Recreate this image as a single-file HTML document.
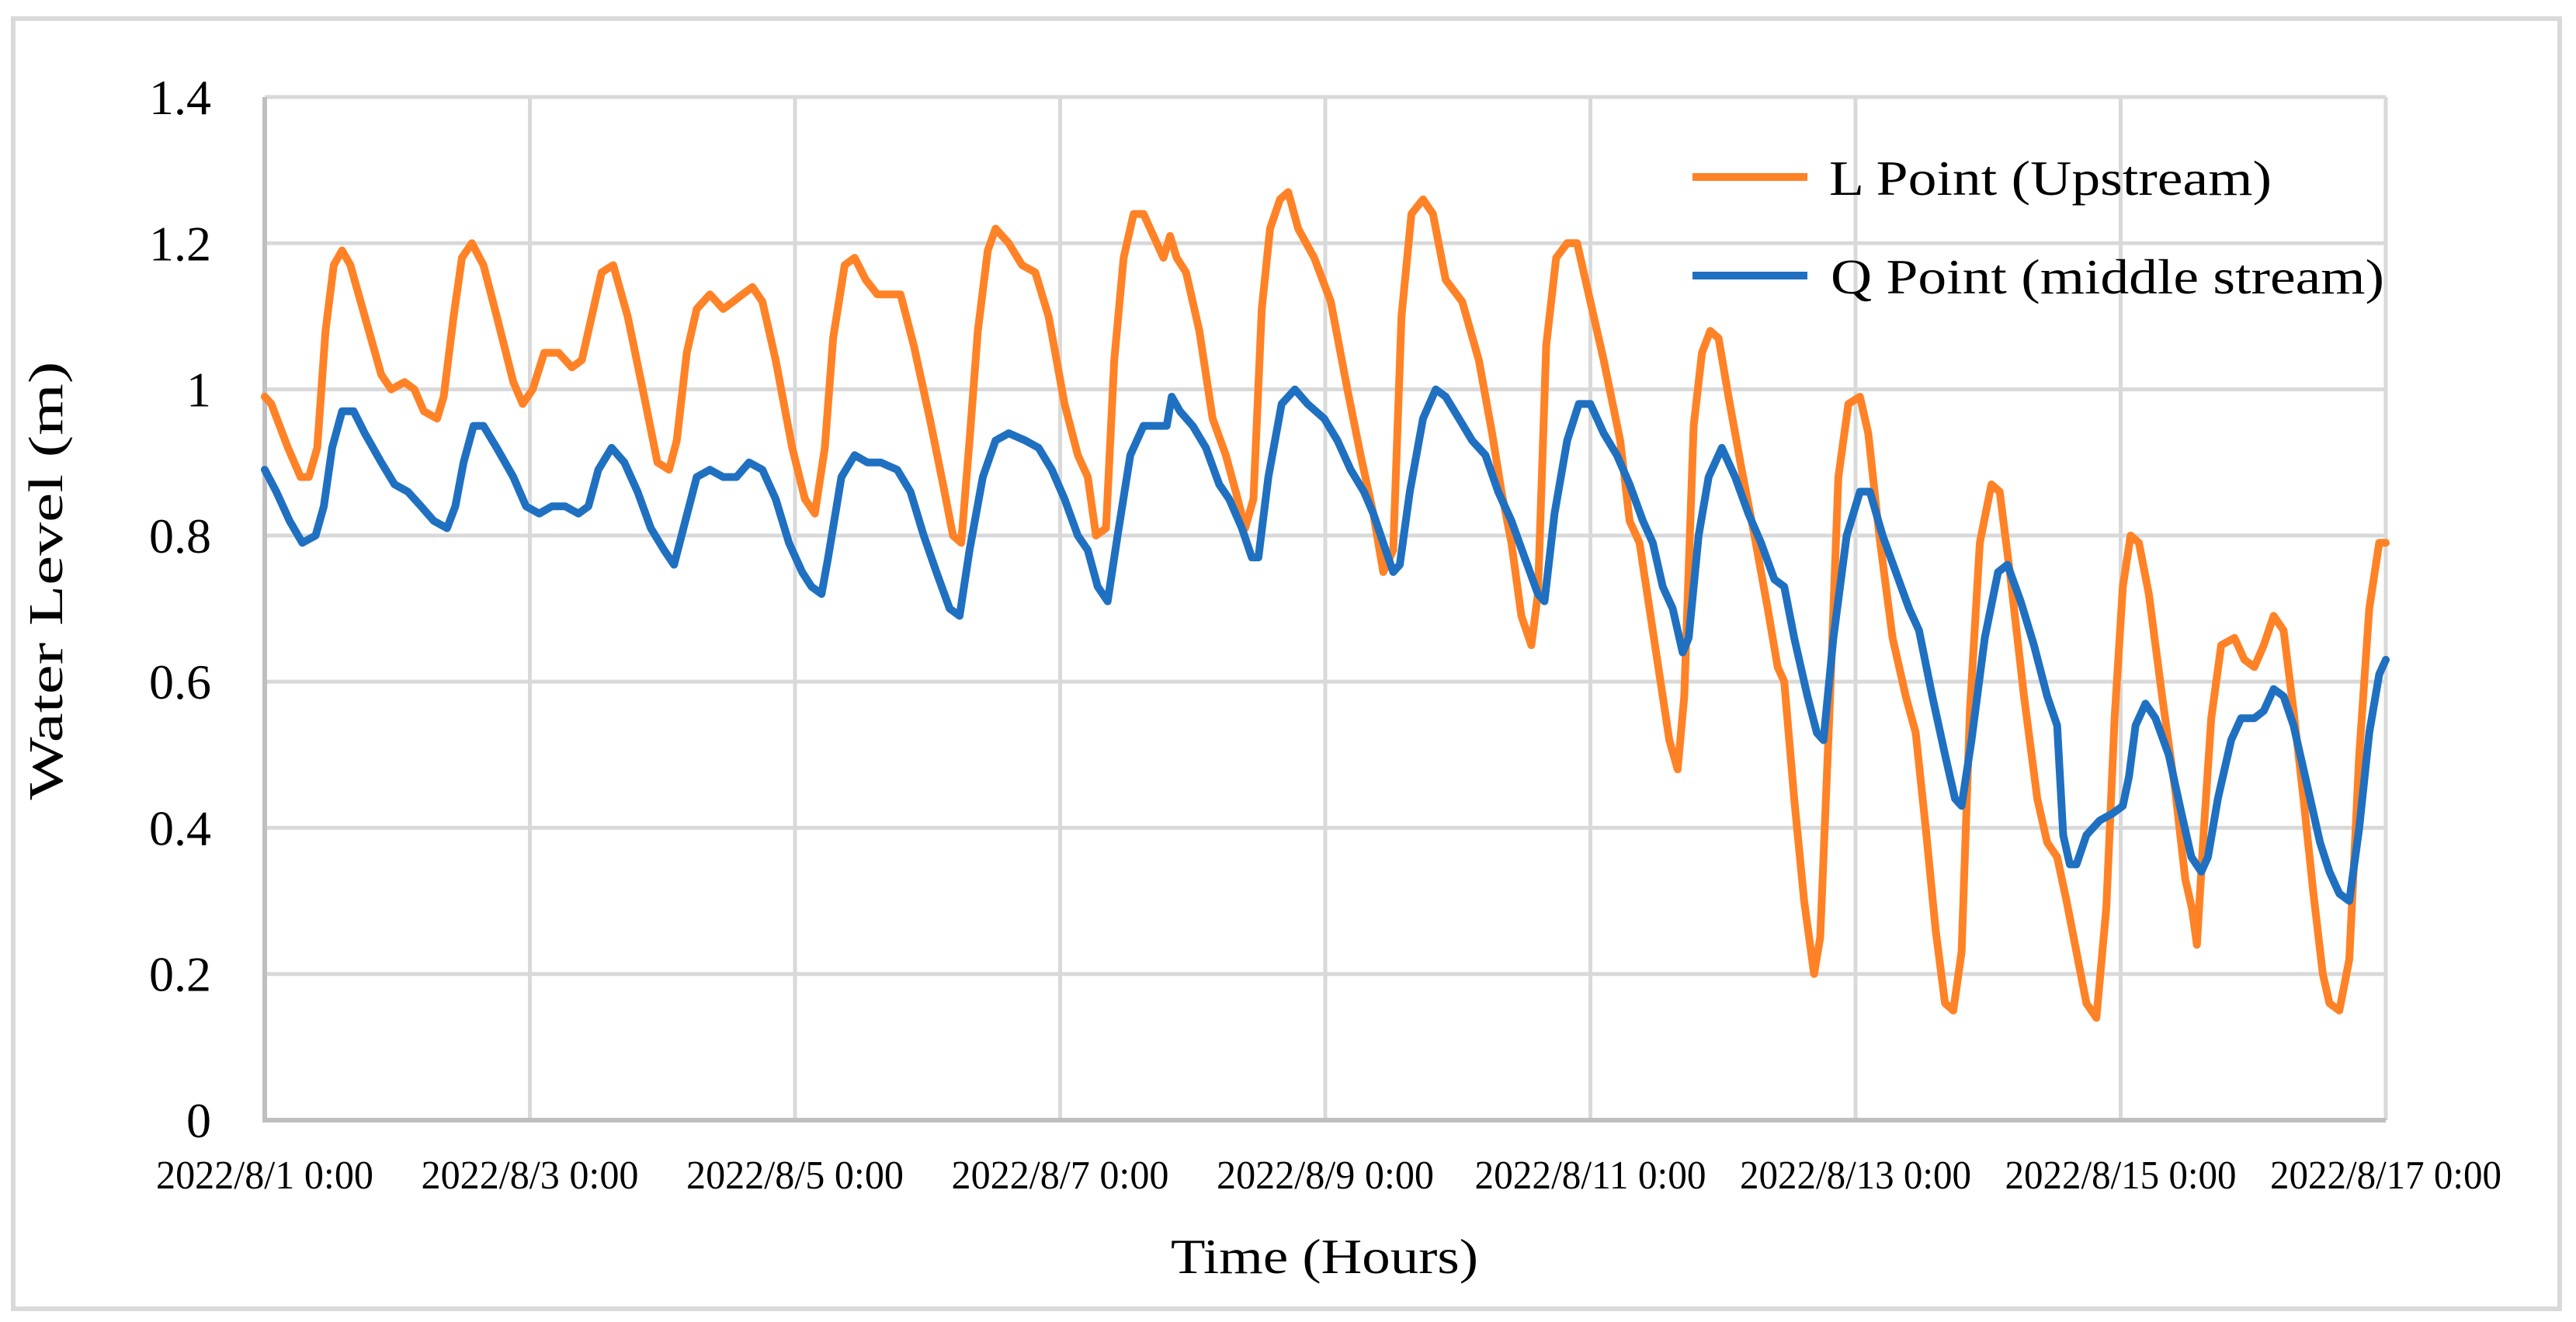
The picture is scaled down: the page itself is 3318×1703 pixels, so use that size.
<!DOCTYPE html>
<html><head><meta charset="utf-8"><style>
html,body{margin:0;padding:0;background:#fff;}
svg{display:block;font-family:"Liberation Serif",serif;}
</style></head><body>
<svg id="chart" width="3318" height="1703" viewBox="0 0 3318 1703" xmlns="http://www.w3.org/2000/svg">
<rect x="17" y="24" width="3280" height="1662" fill="#fff" stroke="#d9d9d9" stroke-width="6"/>
<g id="grid"></g>
<g id="ticks"></g>
<g id="series"></g>
<text x="0" y="0" transform="translate(80,748) rotate(-90)" text-anchor="middle" font-size="62" textLength="565" lengthAdjust="spacingAndGlyphs">Water Level (m)</text>
<text x="1706" y="1640" text-anchor="middle" font-size="64" textLength="396" lengthAdjust="spacingAndGlyphs">Time (Hours)</text>
<g>
<g>
<line x1="2180" y1="228" x2="2328" y2="228" stroke="#ff8226" stroke-width="10"/>
<text x="2356" y="251" font-size="64" textLength="570" lengthAdjust="spacingAndGlyphs">L Point (Upstream)</text></g>
<g>
<line x1="2180" y1="355" x2="2328" y2="355" stroke="#1f70c1" stroke-width="10"/>
<text x="2358" y="378" font-size="64" textLength="713" lengthAdjust="spacingAndGlyphs">Q Point (middle stream)</text></g>
</g>
</svg>
<script>
const xTickLabels=["2022/8/1 0:00","2022/8/3 0:00","2022/8/5 0:00","2022/8/7 0:00","2022/8/9 0:00","2022/8/11 0:00","2022/8/13 0:00","2022/8/15 0:00","2022/8/17 0:00"];
const yTickValues=[0,0.2,0.4,0.6,0.8,1,1.2,1.4];
const yTickLabels=["0","0.2","0.4","0.6","0.8","1","1.2","1.4"];
const hoursL=[0,1.2,4.2,6.5,8.0,9.5,11.0,12.5,14.0,15.5,18.1,21.1,22.9,25.3,27.1,28.8,31.2,32.4,34.2,35.7,37.5,39.6,42.0,45.0,46.7,48.5,50.6,53.2,55.6,57.4,59.2,61.0,63.1,65.7,68.7,71.1,73.2,74.6,76.4,78.2,80.6,83.0,84.8,86.5,88.3,90.1,92.5,95.5,97.8,99.6,101.4,102.9,105.0,106.8,108.8,110.9,113.3,115.1,117.5,120.4,122.8,124.6,126.1,127.6,129.1,130.9,132.3,134.7,137.1,139.5,141.9,144.8,147.2,149.0,150.5,152.3,153.8,155.5,157.3,159.1,161.5,162.7,163.9,165.1,166.8,169.2,171.6,174.0,175.8,177.5,179.0,180.5,182.0,183.8,185.3,187.1,190.0,193.0,196.0,198.4,200.7,202.5,204.3,205.8,207.6,209.7,211.5,213.8,216.8,219.8,222.2,223.9,225.7,227.5,229.3,230.5,232.0,233.8,235.8,237.6,239.4,242.4,245.4,247.1,248.9,250.7,252.5,254.3,255.8,257.0,258.7,260.2,261.7,263.2,265.0,267.4,269.7,272.1,273.9,275.1,276.9,278.7,280.5,281.6,283.4,284.9,286.7,288.8,290.3,292.3,294.7,297.1,298.9,300.7,302.5,304.2,305.7,307.2,308.7,310.5,312.6,314.1,316.1,318.5,320.9,322.7,324.5,326.2,328.0,329.8,331.6,333.4,334.9,336.4,337.8,339.3,341.1,343.5,345.9,347.7,348.9,349.8,351.0,352.4,354.2,356.6,358.4,360.2,361.9,363.7,365.5,367.3,369.1,370.9,372.6,373.8,375.6,377.4,379.2,381.0,382.8,384];
const levelL=[0.99,0.98,0.92,0.88,0.88,0.92,1.08,1.17,1.19,1.17,1.10,1.02,1.00,1.01,1.00,0.97,0.96,0.99,1.10,1.18,1.20,1.17,1.10,1.01,0.98,1.00,1.05,1.05,1.03,1.04,1.10,1.16,1.17,1.10,0.99,0.90,0.89,0.93,1.05,1.11,1.13,1.11,1.12,1.13,1.14,1.12,1.04,0.92,0.85,0.83,0.92,1.07,1.17,1.18,1.15,1.13,1.13,1.13,1.06,0.96,0.87,0.80,0.79,0.93,1.08,1.19,1.22,1.20,1.17,1.16,1.10,0.98,0.91,0.88,0.80,0.81,1.04,1.18,1.24,1.24,1.20,1.18,1.21,1.18,1.16,1.08,0.96,0.91,0.86,0.81,0.85,1.11,1.22,1.26,1.27,1.22,1.18,1.12,1.00,0.91,0.83,0.75,0.78,1.10,1.24,1.26,1.24,1.15,1.12,1.04,0.94,0.86,0.79,0.69,0.65,0.72,1.06,1.18,1.20,1.20,1.14,1.04,0.93,0.82,0.79,0.70,0.61,0.52,0.48,0.58,0.95,1.05,1.08,1.07,0.99,0.89,0.80,0.70,0.62,0.60,0.44,0.30,0.20,0.25,0.58,0.88,0.98,0.99,0.94,0.80,0.66,0.58,0.53,0.40,0.26,0.16,0.15,0.23,0.56,0.79,0.87,0.86,0.74,0.58,0.44,0.38,0.36,0.30,0.23,0.16,0.14,0.29,0.55,0.73,0.80,0.79,0.72,0.58,0.45,0.33,0.29,0.24,0.39,0.55,0.65,0.66,0.63,0.62,0.65,0.69,0.67,0.56,0.44,0.31,0.20,0.16,0.15,0.22,0.50,0.70,0.79,0.79];
const hoursQ=[0,2.1,4.5,6.8,9.2,10.7,12.2,14.0,16.1,18.1,21.1,23.5,25.9,28.3,30.6,33.0,34.5,36.0,37.8,39.6,42.0,45.0,47.3,49.7,52.0,54.4,56.8,58.6,60.4,62.8,65.1,67.5,69.9,72.3,74.1,75.8,78.2,80.6,83.0,85.4,87.7,90.1,92.5,94.9,97.3,99.0,100.8,102.0,104.4,106.8,109.1,111.5,114.5,116.9,119.3,121.6,124.0,125.8,127.6,130.0,132.3,134.7,137.7,140.1,142.5,144.8,147.2,149.0,150.8,152.6,154.4,156.7,159.1,161.5,163.3,164.2,165.7,168.0,170.4,172.8,174.6,176.9,178.7,179.9,181.7,184.1,186.5,188.8,191.8,194.2,196.6,199.0,200.7,202.5,204.3,205.5,207.3,209.7,212.0,213.8,216.2,218.6,221.0,223.3,225.7,228.1,230.5,231.7,233.5,235.8,237.9,240.0,242.4,244.8,247.1,249.5,251.3,253.1,254.9,256.7,257.8,259.6,261.4,263.8,266.2,268.6,270.9,273.3,275.1,276.9,279.3,281.0,282.2,284.0,286.4,288.8,290.6,292.9,295.3,297.7,299.5,301.9,304.2,306.0,307.2,309.0,311.4,313.8,315.5,317.9,320.3,322.7,324.5,325.6,326.8,328.0,329.8,332.2,334.6,336.4,337.5,338.7,340.5,342.3,344.7,347.0,348.8,350.6,351.8,353.6,356.0,357.8,360.2,361.9,363.7,365.5,367.3,369.7,372.1,373.8,375.6,377.4,379.2,381.0,382.8,384];
const levelQ=[0.89,0.86,0.82,0.79,0.80,0.84,0.92,0.97,0.97,0.94,0.90,0.87,0.86,0.84,0.82,0.81,0.84,0.90,0.95,0.95,0.92,0.88,0.84,0.83,0.84,0.84,0.83,0.84,0.89,0.92,0.90,0.86,0.81,0.78,0.76,0.81,0.88,0.89,0.88,0.88,0.90,0.89,0.85,0.79,0.75,0.73,0.72,0.77,0.88,0.91,0.90,0.90,0.89,0.86,0.80,0.75,0.70,0.69,0.78,0.88,0.93,0.94,0.93,0.92,0.89,0.85,0.80,0.78,0.73,0.71,0.80,0.91,0.95,0.95,0.95,0.99,0.97,0.95,0.92,0.87,0.85,0.81,0.77,0.77,0.88,0.98,1.00,0.98,0.96,0.93,0.89,0.86,0.83,0.79,0.75,0.76,0.86,0.96,1.00,0.99,0.96,0.93,0.91,0.86,0.82,0.77,0.72,0.71,0.83,0.93,0.98,0.98,0.94,0.91,0.87,0.82,0.79,0.73,0.70,0.64,0.66,0.80,0.88,0.92,0.88,0.83,0.79,0.74,0.73,0.66,0.58,0.53,0.52,0.66,0.80,0.86,0.86,0.80,0.75,0.70,0.67,0.58,0.50,0.44,0.43,0.52,0.66,0.75,0.76,0.71,0.65,0.58,0.54,0.39,0.35,0.35,0.39,0.41,0.42,0.43,0.47,0.54,0.57,0.55,0.50,0.42,0.36,0.34,0.36,0.44,0.52,0.55,0.55,0.56,0.59,0.58,0.54,0.46,0.38,0.34,0.31,0.30,0.40,0.53,0.61,0.63];

const NS="http://www.w3.org/2000/svg";
const X0=341,X1=3073,Y0=1443,Y1=125,HMAX=384,VMAX=1.4;
function xs(h){return X0+(X1-X0)*h/HMAX;}
function ys(v){return Y0-(Y0-Y1)*v/VMAX;}
function mk(tag,attrs,parent){const e=document.createElementNS(NS,tag);for(const k in attrs)e.setAttribute(k,attrs[k]);parent.appendChild(e);return e;}
const grid=document.getElementById('grid'),ticks=document.getElementById('ticks'),series=document.getElementById('series');
yTickValues.forEach((v,i)=>{
  if(v>0){const g=mk('line',{x1:X0,x2:X1,y1:ys(v),y2:ys(v),stroke:'#d9d9d9','stroke-width':5},grid);
  
  }
  const t=mk('text',{x:272,y:ys(v)+22,'text-anchor':'end','font-size':64},ticks);t.textContent=yTickLabels[i];
  
  
});
xTickLabels.forEach((s,i)=>{
  const h=i*48;
  if(i>0){const g=mk('line',{x1:xs(h),x2:xs(h),y1:Y1,y2:Y0,stroke:'#d9d9d9','stroke-width':5},grid);
  
  }
  const t=mk('text',{x:xs(h),y:1531,'text-anchor':'middle','font-size':52,textLength:s.length>13?298:280,lengthAdjust:'spacingAndGlyphs'},ticks);t.textContent=s;
  
  
});
const ax=mk('path',{d:`M${X0},${Y1} V${Y0} H${X1}`,fill:'none',stroke:'#bfbfbf','stroke-width':6},grid);


function line(hs,vs,color,name){
  const pts=hs.map((h,i)=>xs(h).toFixed(1)+','+ys(vs[i]).toFixed(1)).join(' ');
  const p=mk('polyline',{points:pts,fill:'none',stroke:color,'stroke-width':10,'stroke-linejoin':'round','stroke-linecap':'round'},series);
  
  
}
line(hoursL,levelL,'#ff8226','l-point-line');
line(hoursQ,levelQ,'#1f70c1','q-point-line');
</script>
</body></html>
